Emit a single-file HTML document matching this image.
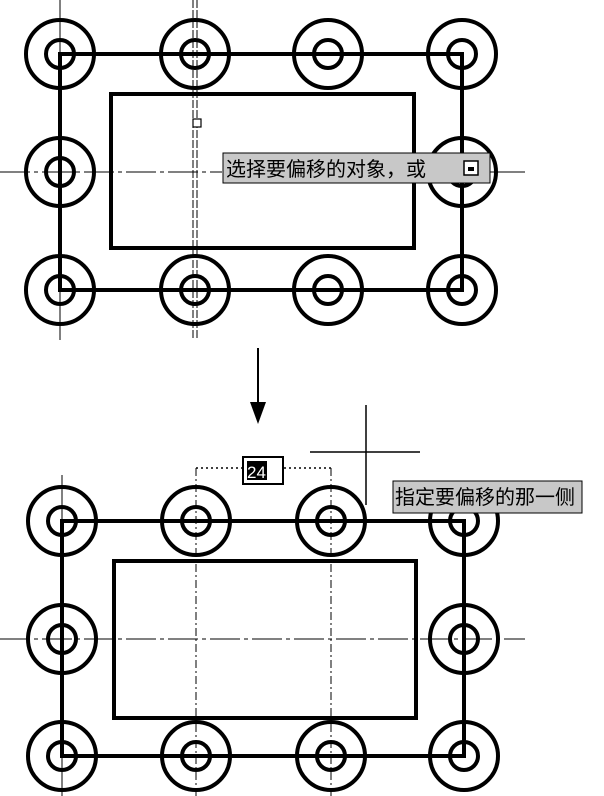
<!DOCTYPE html>
<html><head><meta charset="utf-8"><style>
body{margin:0;background:#fff}
svg{display:block}
text{font-family:"Liberation Sans","Noto Sans CJK SC",sans-serif}
</style></head><body>
<svg width="604" height="796" viewBox="0 0 604 796" xmlns="http://www.w3.org/2000/svg">
<g stroke="#000" fill="none">
<!-- TOP -->
<line x1="0" y1="172" x2="222" y2="172" stroke-width="1" stroke-dasharray="30,4,4,4"/>
<line x1="490" y1="172" x2="525" y2="172" stroke-width="1"/>
<line x1="60" y1="0" x2="60" y2="340" stroke-width="1"/>
<line x1="193" y1="0" x2="193" y2="340" stroke-width="1" stroke-dasharray="8,2"/>
<line x1="197" y1="0" x2="197" y2="340" stroke-width="1" stroke-dasharray="8,2"/>
<rect x="193" y="119" width="8" height="8" stroke-width="1.2" fill="#fff"/>
<rect x="60" y="54" width="402" height="236" stroke-width="4"/>
<rect x="111" y="94" width="303" height="154" stroke-width="4"/>
<g stroke-width="4">
<circle cx="60" cy="54" r="34"/><circle cx="60" cy="54" r="14"/>
<circle cx="195" cy="54" r="34"/><circle cx="195" cy="54" r="14"/>
<circle cx="328" cy="54" r="34"/><circle cx="328" cy="54" r="14"/>
<circle cx="462" cy="54" r="34"/><circle cx="462" cy="54" r="14"/>
<circle cx="60" cy="172" r="34"/><circle cx="60" cy="172" r="14"/>
<circle cx="462" cy="172" r="34"/><circle cx="462" cy="172" r="14"/>
<circle cx="60" cy="290" r="34"/><circle cx="60" cy="290" r="14"/>
<circle cx="195" cy="290" r="34"/><circle cx="195" cy="290" r="14"/>
<circle cx="328" cy="290" r="34"/><circle cx="328" cy="290" r="14"/>
<circle cx="462" cy="290" r="34"/><circle cx="462" cy="290" r="14"/>
</g>
<!-- arrow -->
<line x1="258" y1="348" x2="258" y2="405" stroke-width="2"/>
<!-- BOTTOM -->
<line x1="0" y1="639" x2="525" y2="639" stroke-width="1" stroke-dasharray="30,4,4,4"/>
<line x1="62" y1="475" x2="62" y2="796" stroke-width="1"/>
<line x1="196" y1="468" x2="196" y2="796" stroke-width="1" stroke-dasharray="8,3,2,3"/>
<line x1="331" y1="468" x2="331" y2="796" stroke-width="1" stroke-dasharray="8,3,2,3"/>
<line x1="196" y1="468" x2="242" y2="468" stroke-width="1.5" stroke-dasharray="2,3"/>
<line x1="284" y1="468" x2="331" y2="468" stroke-width="1.5" stroke-dasharray="2,3"/>
<line x1="366" y1="405" x2="366" y2="505" stroke-width="1.5"/>
<line x1="310" y1="452" x2="420" y2="452" stroke-width="1.5"/>
<rect x="62" y="521" width="402" height="235" stroke-width="4"/>
<rect x="114" y="561" width="302" height="157" stroke-width="4"/>
<g stroke-width="4">
<circle cx="62" cy="521" r="34"/><circle cx="62" cy="521" r="14"/>
<circle cx="196" cy="521" r="34"/><circle cx="196" cy="521" r="14"/>
<circle cx="331" cy="521" r="34"/><circle cx="331" cy="521" r="14"/>
<circle cx="464" cy="521" r="34"/><circle cx="464" cy="521" r="14"/>
<circle cx="62" cy="639" r="34"/><circle cx="62" cy="639" r="14"/>
<circle cx="464" cy="639" r="34"/><circle cx="464" cy="639" r="14"/>
<circle cx="62" cy="756" r="34"/><circle cx="62" cy="756" r="14"/>
<circle cx="196" cy="756" r="34"/><circle cx="196" cy="756" r="14"/>
<circle cx="331" cy="756" r="34"/><circle cx="331" cy="756" r="14"/>
<circle cx="464" cy="756" r="34"/><circle cx="464" cy="756" r="14"/>
</g>
</g>
<polygon points="250,402 266,402 258,424" fill="#000"/>
<!-- top tooltip -->
<rect x="223" y="153" width="267" height="30" fill="#c8c8c8" stroke="#000" stroke-width="1"/>
<text x="226" y="176" font-size="20" fill="#000">选择要偏移的对象，或</text>
<rect x="464" y="161" width="14" height="14" fill="#fff" stroke="#000" stroke-width="1.5"/>
<rect x="468" y="167" width="6" height="4" fill="#000"/>
<!-- 24 box -->
<rect x="243" y="457" width="40" height="27" fill="#fff" stroke="#000" stroke-width="2"/>
<rect x="247" y="461" width="20" height="19" fill="#000"/>
<text x="247" y="478" font-size="17" fill="#fff">24</text>
<!-- bottom tooltip -->
<rect x="393" y="481" width="189" height="32" fill="#c8c8c8" stroke="#000" stroke-width="1"/>
<text x="395" y="504" font-size="20" fill="#000">指定要偏移的那一侧</text>
</svg>
</body></html>
